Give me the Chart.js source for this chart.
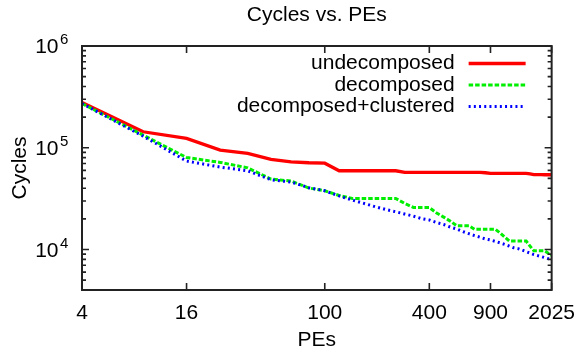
<!DOCTYPE html>
<html>
<head>
<meta charset="utf-8">
<script src="https://cdn.jsdelivr.net/npm/chart.js@4/dist/chart.umd.min.js"></script>
<style>
  html, body { margin: 0; padding: 0; background: #fff; }
  #wrap { width: 586px; height: 355px; }
</style>
</head>
<body>
<div id="wrap"><canvas id="c" width="586" height="355"></canvas></div>
<script>
// Number of processing elements (square grids 2x2 ... 45x45)
const pes = [4, 9, 16, 25, 36, 49, 64, 81, 100, 121, 144, 169, 196, 225, 256, 289, 324, 361, 400,
  441, 484, 529, 576, 625, 676, 729, 784, 841, 900, 961, 1024, 1089, 1156, 1225, 1296, 1369,
  1444, 1521, 1600, 1681, 1764, 1849, 1936, 2025];

// Cycle counts per configuration
const undecomposed = [279000, 143600, 123600, 94900, 88100, 76900, 72800, 71200, 70500, 59400,
  59400, 59400, 59400, 59400, 59400, 57300, 57300, 57300, 57300, 57300, 57300, 57300, 57300,
  57300, 57300, 57300, 57300, 56800, 56100, 56100, 56100, 56100, 56100, 56100, 56100, 56100,
  56100, 55300, 54500, 54400, 54400, 54300, 54300, 54300];

const decomposed = [272000, 133000, 80200, 71800, 63500, 49200, 47100, 40200, 37800, 34000,
  31800, 31800, 31800, 31800, 31800, 28300, 25900, 25900, 25900, 22800, 20800, 19000, 17100,
  17100, 17100, 15800, 15800, 15800, 15800, 15800, 14500, 13200, 12100, 12100, 12100, 12100,
  12100, 10800, 9700, 9700, 9700, 9700, 9200, 8800];

const decomposedClustered = [272000, 130000, 74000, 64600, 59400, 48500, 46000, 40500, 37800,
  33600, 30600, 28300, 26300, 24700, 23500, 22300, 21300, 20100, 19500, 18400, 17600, 16600,
  15900, 15000, 14300, 13700, 13200, 12700, 12400, 12000, 11600, 11200, 10800, 10400, 10200,
  9870, 9530, 9220, 8910, 8710, 8510, 8320, 8130, 7950];

const seriesNames = ['undecomposed', 'decomposed', 'decomposed+clustered'];
const xTicks = [4, 16, 100, 400, 900, 2025];
const yTicks = [1e4, 1e5, 1e6];
const titleText = 'Cycles vs. PEs';

const FONT = '"Liberation Sans", Arial, Helvetica, sans-serif';
const FS = 21;

function toPoints(vals) {
  return pes.map((x, i) => ({ x: x, y: vals[i] }));
}

// Title centred over the plot area
const titlePlugin = {
  id: 'plotTitle',
  afterDraw(chart) {
    const { ctx, chartArea: a } = chart;
    ctx.save();
    ctx.font = FS + 'px ' + FONT;
    ctx.fillStyle = '#000';
    ctx.textAlign = 'center';
    ctx.textBaseline = 'middle';
    ctx.fillText(titleText, (a.left + a.right) / 2, 15);
    ctx.restore();
  }
};

// Power-of-ten labels on the y axis: "10" with a raised exponent
const powerLabelPlugin = {
  id: 'powerLabels',
  afterDraw(chart) {
    const { ctx, chartArea: a, scales: { y } } = chart;
    ctx.save();
    ctx.fillStyle = '#000';
    yTicks.forEach(v => {
      const py = y.getPixelForValue(v);
      const exp = String(Math.round(Math.log10(v)));
      ctx.font = FS + 'px ' + FONT;
      ctx.textAlign = 'right';
      ctx.textBaseline = 'middle';
      ctx.fillText('10', a.left - 23.5, py + 1.5);
      ctx.font = '15px ' + FONT;
      ctx.textAlign = 'left';
      ctx.fillText(exp, a.left - 22, py - 6);
    });
    ctx.restore();
  }
};

// Plot border with inward major/minor tick marks on all four sides
const framePlugin = {
  id: 'frame',
  afterDraw(chart) {
    const { ctx, chartArea: a, scales: { x, y } } = chart;
    ctx.save();
    ctx.strokeStyle = '#222';
    ctx.lineWidth = 1.6;
    ctx.setLineDash([]);
    ctx.beginPath();
    xTicks.forEach(v => {
      const px = x.getPixelForValue(v);
      ctx.moveTo(px, a.bottom); ctx.lineTo(px, a.bottom - 7);
      ctx.moveTo(px, a.top); ctx.lineTo(px, a.top + 7);
    });
    for (let e = 3; e <= 5; e++) {
      for (let m = 1; m <= 9; m++) {
        const v = m * Math.pow(10, e);
        if (v <= y.min || v >= y.max) continue;
        const len = m === 1 ? 7 : 4;
        const py = y.getPixelForValue(v);
        ctx.moveTo(a.left, py); ctx.lineTo(a.left + len, py);
        ctx.moveTo(a.right, py); ctx.lineTo(a.right - len, py);
      }
    }
    ctx.stroke();
    ctx.lineWidth = 2;
    ctx.strokeRect(a.left, a.top, a.right - a.left, a.bottom - a.top);
    ctx.restore();
  }
};

// Key inside the top-right corner: right-aligned label followed by a line sample
const keyPlugin = {
  id: 'key',
  afterDatasetsDraw(chart) {
    const { ctx, chartArea: a } = chart;
    ctx.save();
    ctx.font = FS + 'px ' + FONT;
    ctx.textAlign = 'right';
    ctx.textBaseline = 'middle';
    ctx.fillStyle = '#000';
    chart.data.datasets.forEach((ds, i) => {
      const yy = a.top + 17.5 + i * 21.5;
      ctx.fillText(ds.label, a.right - 97, yy);
      ctx.beginPath();
      ctx.strokeStyle = ds.borderColor;
      ctx.lineWidth = ds.borderWidth;
      ctx.setLineDash(ds.borderDash || []);
      ctx.moveTo(a.right - 83, yy);
      ctx.lineTo(a.right - 26, yy);
      ctx.stroke();
    });
    ctx.restore();
  }
};

new Chart(document.getElementById('c'), {
  type: 'line',
  data: {
    datasets: [
      { label: seriesNames[0], data: toPoints(undecomposed), borderColor: '#ff0000', borderWidth: 3.3, order: 2 },
      { label: seriesNames[1], data: toPoints(decomposed), borderColor: '#00ee00', borderWidth: 3, borderDash: [4.5, 2], order: 1 },
      { label: seriesNames[2], data: toPoints(decomposedClustered), borderColor: '#0000ff', borderWidth: 3, borderDash: [2, 3.2], order: 0 }
    ]
  },
  options: {
    responsive: false,
    animation: false,
    devicePixelRatio: 1,
    layout: { padding: { left: 0, right: 27, top: 46, bottom: 0 } },
    elements: { point: { radius: 0 }, line: { tension: 0, borderCapStyle: 'butt' } },
    plugins: {
      legend: { display: false },
      tooltip: { enabled: false },
      title: { display: false }
    },
    scales: {
      x: {
        type: 'logarithmic',
        min: 4,
        max: 2025,
        afterBuildTicks: s => { s.ticks = xTicks.map(v => ({ value: v })); },
        afterFit: s => { s.height = 65; },
        grid: { display: false, drawTicks: false },
        border: { display: false },
        ticks: {
          color: '#000',
          font: { family: FONT, size: FS },
          padding: 11,
          maxRotation: 0,
          autoSkip: false,
          callback: v => String(v)
        },
        title: {
          display: true,
          text: 'PEs',
          color: '#000',
          font: { family: FONT, size: FS },
          padding: { top: 2.5, bottom: 2.5 }
        }
      },
      y: {
        type: 'logarithmic',
        min: 4000,
        max: 1e6,
        afterBuildTicks: s => { s.ticks = yTicks.map(v => ({ value: v })); },
        afterFit: s => { s.width = 82; },
        grid: { display: false, drawTicks: false },
        border: { display: false },
        ticks: { display: false },
        title: {
          display: true,
          text: 'Cycles',
          color: '#000',
          font: { family: FONT, size: FS },
          padding: { top: 7.5, bottom: 7.5 }
        }
      }
    }
  },
  plugins: [keyPlugin, framePlugin, titlePlugin, powerLabelPlugin]
});
</script>
</body>
</html>
